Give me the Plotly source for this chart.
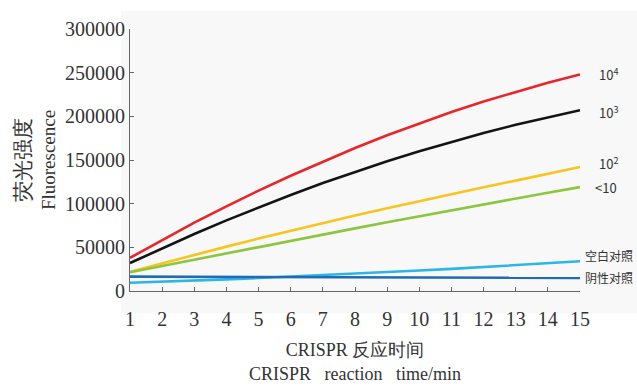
import plotly.graph_objects as go

minutes = list(range(1, 16))
s_1e4 = [38000, 58500, 78200, 97000, 115000, 132000, 148300, 163700, 178300, 192000, 205000, 217000, 228200, 238500, 248000]
s_1e3 = [32000, 49000, 65300, 80900, 95800, 110000, 123600, 136400, 148600, 160000, 170800, 180900, 190300, 199000, 207000]
s_1e2 = [22000, 31800, 41400, 50800, 60000, 69000, 77800, 86400, 94800, 103000, 111000, 118800, 126400, 133800, 142000]
s_lt10 = [21500, 28800, 36100, 43300, 50500, 57600, 64700, 71700, 78700, 85600, 92500, 99300, 106000, 112600, 119000]
s_blank = [9500, 10600, 11900, 13300, 14800, 16400, 18100, 19800, 21600, 23400, 25300, 27300, 29400, 31600, 34000]
s_neg = [16500, 16400, 16300, 16200, 16100, 16000, 15900, 15800, 15700, 15600, 15500, 15400, 15300, 15200, 15000]

series = [
    ("10<sup>4</sup>", s_1e4, "#e8262a", 17, 0, 13),
    ("10<sup>3</sup>", s_1e3, "#141414", 17, -2, 13),
    ("10<sup>2</sup>", s_1e2, "#f7c51e", 17, 4, 13),
    ("&lt;10", s_lt10, "#8cc63f", 13, 0, 13),
    ("空白对照", s_blank, "#2bb5e8", 3, 6, 12),
    ("阴性对照", s_neg, "#1f6cb4", 3, 0, 12),
]

y_ticks = [0, 50000, 100000, 150000, 200000, 250000, 300000]

fig = go.Figure()
for name, vals, color, xs, ys, fs in series:
    fig.add_trace(go.Scatter(x=minutes, y=vals, mode="lines", name=name,
                             line=dict(color=color, width=2.6), showlegend=False))
    fig.add_annotation(x=minutes[-1], y=vals[-1], text=name, showarrow=False,
                       xanchor="left", yanchor="middle", xshift=xs, yshift=ys,
                       font=dict(family="Noto Sans CJK SC", size=fs, color="#333333"))

serif = "Liberation Serif"
fig.add_shape(type="rect", xref="paper", yref="paper", x0=-0.02, x1=1.2, y0=-0.085, y1=1.07,
              fillcolor="#f8f8f8", line=dict(width=0), layer="below")

fig.update_layout(
    width=637, height=387,
    margin=dict(l=130, r=57, t=29, b=96, autoexpand=False),
    paper_bgcolor="white", plot_bgcolor="rgba(0,0,0,0)",
    font=dict(family=serif, color="#333333"),
    xaxis=dict(range=[1, 15], tickmode="array", tickvals=minutes, ticks="inside", ticklen=4,
               tickcolor="#666666", showline=True, linecolor="#666666", linewidth=1,
               showgrid=False, zeroline=False, ticklabelstandoff=10, automargin=False,
               tickfont=dict(family=serif, size=20, color="#333333"),
               title=dict(text="CRISPR 反应时间<br>CRISPR&nbsp;&nbsp; reaction&nbsp;&nbsp; time/min",
                          font=dict(family=serif, size=18, color="#333333"), standoff=14)),
    yaxis=dict(range=[0, 300000], tickmode="array", tickvals=y_ticks, ticks="inside", ticklen=4,
               tickcolor="#666666", showline=True, linecolor="#666666", linewidth=1,
               showgrid=False, zeroline=False, tickformat="d", automargin=False,
               tickfont=dict(family=serif, size=20, color="#333333"),
               title=dict(text="<span style='font-size:21px'>荧光强度</span><br>Fluorescence",
                          font=dict(family=serif, size=19, color="#333333"), standoff=4)),
)

fig.write_html("out.html")
